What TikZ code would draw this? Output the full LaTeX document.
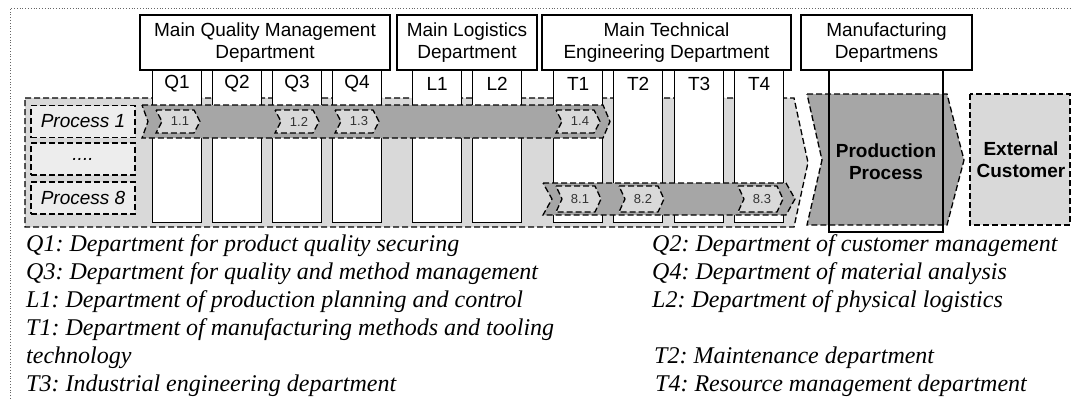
\documentclass[tikz,border=0pt]{standalone}
\usepackage{fontspec}
\setmainfont{Liberation Serif}
\setsansfont{Liberation Sans}
\usepackage{tikz}

\definecolor{bandgray}{HTML}{A6A6A6}
\definecolor{backgray}{HTML}{D9D9D9}
\definecolor{labelgray}{HTML}{EDEDED}

\begin{document}
\begin{tikzpicture}[x=1pt, y=-1pt,
  dashline/.style={line width=1.3pt, dash pattern=on 6pt off 3pt},
  dept/.style={draw, fill=white, line width=1.2pt, align=center, inner sep=0pt,
    minimum height=55pt, font=\sffamily\fontsize{19}{21.5}\selectfont},
  colbox/.style={draw, fill=white, line width=1.2pt, anchor=north west, inner sep=0pt,
    minimum width=49pt, minimum height=152pt},
  collabel/.style={inner sep=0pt, font=\sffamily\fontsize{19}{21}\selectfont},
  procbox/.style={dashline, draw, fill=labelgray, inner sep=0pt, minimum width=104pt,
    minimum height=32pt, font=\sffamily\itshape\fontsize{19}{21}\selectfont},
  sub/.style={dashline, fill=backgray},
  sublabel/.style={inner sep=0pt, text=black!80, font=\sffamily\fontsize{13}{13}\selectfont},
  bigtext/.style={inner sep=0pt, align=center, font=\sffamily\bfseries\fontsize{19}{22}\selectfont},
  legend/.style={anchor=base west, inner sep=0pt, font=\frenchspacing\rmfamily\itshape\fontsize{24}{28}\selectfont}]
\useasboundingbox (0,0) rectangle (1072,400);
\draw [dotted, line width=0.8pt, black!60] (10,410) -- (10,8) -- (1090,8);

\draw [dashline, fill=backgray] (25,98) -- (794,98) -- (808,162.5) -- (794,227) -- (25,227) -- cycle;

\foreach \x/\n in {152/Q1, 212/Q2, 272/Q3, 332/Q4, 412/L1, 472/L2, 553/T1, 613/T2, 674/T3, 734/T4} {
  \node [colbox] (\n) at (\x,70) {};
  \node [collabel] (lab\n) at ([yshift=-14pt]\n.north) {\n};
}

\node [procbox] (p1) at (83,121.5) {Process 1};
\node [procbox] (pdots) at (83,159) {....};
\node [procbox] (p8) at (83,198) {Process 8};

\draw [dashline, fill=bandgray] (142,105) -- (603,105) -- (610,121.5) -- (603,138) -- (142,138) -- (148,121.5) -- cycle;
\foreach \a/\t/\n in {156/1.1/a, 275/1.2/b, 335/1.3/c, 556/1.4/d} {
  \draw [sub] (\a,110) -- ++(38,0) -- ++(6,11.5) -- ++(-6,11.5) -- ++(-38,0) -- ++(6,-11.5) -- cycle;
  \node [sublabel] (one\n) at (\a+24,121.5) {\t};
}

\draw [dashline, fill=bandgray] (543,183) -- (786,183) -- (795,199) -- (786,215) -- (543,215) -- (552,199) -- cycle;
\foreach \a/\t/\n in {556/8.1/a, 619/8.2/b, 738/8.3/c} {
  \draw [sub] (\a,186) -- ++(39,0) -- ++(6,13) -- ++(-6,13) -- ++(-39,0) -- ++(6,-13) -- cycle;
  \node [sublabel] (eight\n) at (\a+24,199) {\t};
}

\draw [dashline, fill=bandgray] (807,94) -- (947,94) -- (964,160) -- (947,225) -- (807,225) -- (822,160) -- cycle;
\node [bigtext] (prod) at (886,162) {Production\\Process};
\draw [line width=1.2pt] (829,70) -- (829,232) -- (943,232) -- (943,70);

\draw [dashline, fill=backgray] (970,94) rectangle (1070,225);
\node [bigtext] (cust) at (1021,160) {External\\Customer};

\node [dept, minimum width=250pt] (qmd) at (265,42.5) {Main Quality Management\\Department};
\node [dept, minimum width=140pt] (mld) at (467,42.5) {Main Logistics\\Department};
\node [dept, minimum width=249pt] (mtd) at (666.5,42.5) {Main Technical\\Engineering Department};
\node [dept, minimum width=171pt] (mfd) at (886.5,42.5) {Manufacturing\\Departmens};

\node [legend] (lq1) at (26,251) {Q1: Department for product quality securing};
\node [legend] (lq3) at (26,279) {Q3: Department for quality and method management};
\node [legend] (ll1) at (26,307) {L1: Department of production planning and control};
\node [legend] (lt1) at (26,335) {T1: Department of manufacturing methods and tooling};
\node [legend] (lt1b) at (26,363) {technology};
\node [legend] (lt3) at (26,391) {T3: Industrial engineering department};
\node [legend] (lq2) at (652,251) {Q2: Department of customer management};
\node [legend] (lq4) at (652,279) {Q4: Department of material analysis};
\node [legend] (ll2) at (652,307) {L2: Department of physical logistics};
\node [legend] (lt2) at (654,363) {T2: Maintenance department};
\node [legend] (lt4) at (655,391) {T4: Resource management department};
\end{tikzpicture}
\end{document}
